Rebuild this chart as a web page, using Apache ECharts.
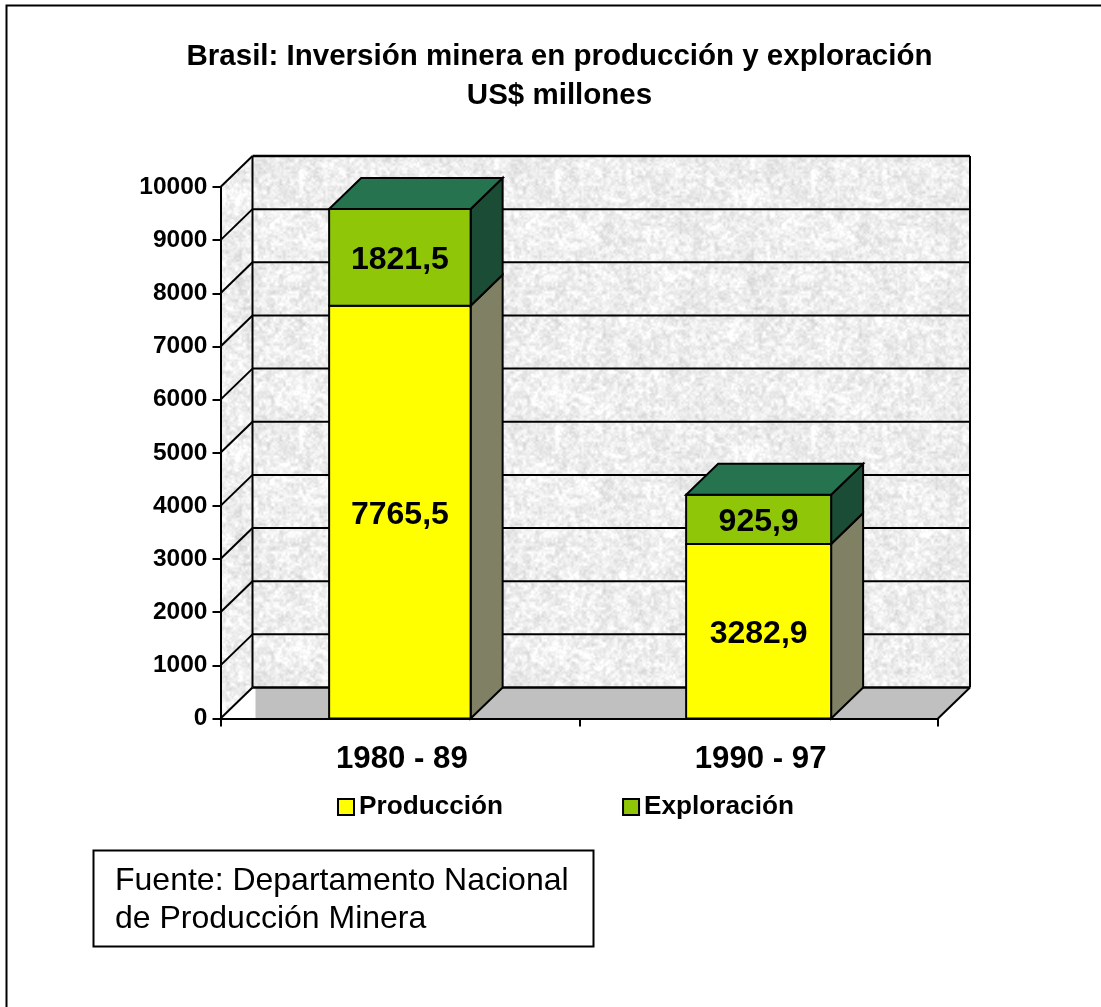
<!DOCTYPE html>
<html>
<head>
<meta charset="utf-8">
<style>html,body{margin:0;padding:0;background:#fff}#c{width:1101px;height:1007px}</style>
<script src="https://cdn.jsdelivr.net/npm/echarts@6/dist/echarts.min.js"></script>
</head>
<body>
<div id="c"></div>
<script>
const categories = ['1980 - 89', '1990 - 97'];
const produccion = [7765.5, 3282.9];
const exploracion = [1821.5, 925.9];
const yTicks = [0, 1000, 2000, 3000, 4000, 5000, 6000, 7000, 8000, 9000, 10000];
const titleLines = ['Brasil: Inversión minera en producción y exploración', 'US$ millones'];
const sourceLines = ['Fuente: Departamento Nacional', 'de Producción Minera'];

const FONT = '"Liberation Sans", Arial, sans-serif';
const DX = 32, DY = -31;
const BAR_W = [141.5, 145];
const INK = '#000';

function makeTexture() {
  const S = 256, cv = document.createElement('canvas');
  cv.width = cv.height = S;
  const ctx = cv.getContext('2d'), img = ctx.createImageData(S, S);
  let seed = 12345;
  const next = () => (seed = (seed * 1103515245 + 12345) & 0x7fffffff) / 0x7fffffff;
  const layer = (n) => { const a = []; for (let i = 0; i < n * n; i++) a.push(next()); return a; };
  const L1 = layer(16), L2 = layer(64), L3 = layer(128);
  const smp = (L, n, x, y) => {
    const fx = x / S * n, fy = y / S * n, ix = Math.floor(fx), iy = Math.floor(fy);
    let tx = fx - ix, ty = fy - iy; tx = tx * tx * (3 - 2 * tx); ty = ty * ty * (3 - 2 * ty);
    const g = (i, j) => L[((j + n) % n) * n + ((i + n) % n)];
    return (g(ix, iy) * (1 - tx) + g(ix + 1, iy) * tx) * (1 - ty) + (g(ix, iy + 1) * (1 - tx) + g(ix + 1, iy + 1) * tx) * ty;
  };
  for (let y = 0; y < S; y++) for (let x = 0; x < S; x++) {
    const v = 238 + (smp(L1, 16, x, y) - .5) * 12 + (smp(L2, 64, x, y) - .5) * 28 + (smp(L3, 128, x, y) - .5) * 22;
    const p = (y * S + x) * 4;
    img.data[p] = img.data[p + 1] = img.data[p + 2] = v;
    img.data[p + 3] = 255;
  }
  ctx.putImageData(img, 0, 0);
  return cv;
}
const texture = { image: makeTexture(), repeat: 'repeat' };

function poly(points, fill, z2) {
  return { type: 'polygon', z2: z2 || 0, shape: { points }, style: { fill, stroke: INK, lineWidth: 2, lineJoin: 'miter' } };
}
function seg(x1, y1, x2, y2, w) {
  return { type: 'line', z2: 5, shape: { x1, y1, x2, y2 }, style: { stroke: INK, lineWidth: w || 2, fill: null } };
}

function renderWalls(params, api) {
  const cs = params.coordSys;
  const x0 = cs.x, x1 = cs.x + cs.width;
  const y0 = api.coord([0, 0])[1], yT = api.coord([0, yTicks[yTicks.length - 1]])[1];
  const kids = [];
  kids.push({ type: 'polygon', shape: { points: [[x0 + DX, yT + DY], [x1 + DX, yT + DY], [x1 + DX, y0 + DY], [x0 + DX, y0 + DY]] }, style: { fill: texture } });
  kids.push({ type: 'polygon', shape: { points: [[x0, y0], [x0 + DX, y0 + DY], [x0 + DX, yT + DY], [x0, yT]] }, style: { fill: texture } });
  kids.push({ type: 'polygon', shape: { points: [[x0 + DX + 3, y0 + DY], [x1 + DX, y0 + DY], [x1, y0], [x0 + DX + 3, y0]] }, style: { fill: '#c0c0c0' } });
  yTicks.forEach(t => {
    const y = api.coord([0, t])[1];
    kids.push(seg(x0 + DX, y + DY, x1 + DX, y + DY, t === 0 || t === 10000 ? 2.5 : 2));
    kids.push(seg(x0, y, x0 + DX, y + DY));
  });
  kids.push(seg(x0 + DX, yT + DY, x0 + DX, y0 + DY));
  kids.push(seg(x1 + DX, yT + DY, x1 + DX, y0 + DY));
  kids.push(seg(x1, y0, x1 + DX, y0 + DY));
  return { type: 'group', children: kids };
}

function renderBar(colors, getBase) {
  return function (params, api) {
    const i = api.value(0), v = api.value(1), base = getBase(i);
    const c = api.coord([i, base]), t = api.coord([i, base + v]);
    const w = BAR_W[i], l = c[0] - w / 2, r = c[0] + w / 2, yb = c[1], yt = t[1];
    const kids = [
      poly([[r, yb], [r + DX, yb + DY], [r + DX, yt + DY], [r, yt]], colors.side, 1),
      poly([[l, yb], [r, yb], [r, yt], [l, yt]], colors.front, 2)
    ];
    if (colors.top) kids.push(poly([[l, yt], [r, yt], [r + DX, yt + DY], [l + DX, yt + DY]], colors.top, 3));
    kids.push({
      type: 'text', z2: 6,
      style: {
        text: v.toFixed(1).replace('.', ','), x: c[0], y: (yb + yt) / 2 + 3,
        textAlign: 'center', textVerticalAlign: 'middle',
        font: 'bold 32px ' + FONT, fill: INK
      }
    });
    return { type: 'group', children: kids };
  };
}

const chart = echarts.init(document.getElementById('c'), null, { renderer: 'canvas', width: 1101, height: 1007 });
chart.setOption({
  animation: false,
  backgroundColor: '#fff',
  title: {
    text: titleLines.join('\n'), left: 554.5, top: 32, textAlign: 'center',
    textStyle: { fontFamily: FONT, fontWeight: 'bold', fontSize: 29.5, lineHeight: 39, color: INK }
  },
  legend: {
    left: 332, top: 789, itemWidth: 16, itemHeight: 16, itemGap: 119, icon: 'rect',
    data: ['Producción', 'Exploración'],
    textStyle: { fontFamily: FONT, fontWeight: 'bold', fontSize: 26.2, color: INK }
  },
  grid: { left: 220.5, right: 163, top: 187, bottom: 288.5 },
  xAxis: {
    type: 'category', data: categories, z: 5,
    axisLine: { show: true, lineStyle: { color: INK, width: 2 } },
    axisTick: { show: true, length: 8, lineStyle: { color: INK, width: 2 } },
    axisLabel: { margin: 25, padding: [0, 0, 0, 4], fontFamily: FONT, fontWeight: 'bold', fontSize: 31.2, color: INK }
  },
  yAxis: {
    type: 'value', min: 0, max: 10000, interval: 1000, z: 5,
    splitLine: { show: false },
    axisLine: { show: true, lineStyle: { color: INK, width: 2 } },
    axisTick: { show: true, length: 8, lineStyle: { color: INK, width: 2 } },
    axisLabel: { margin: 13, fontFamily: FONT, fontWeight: 'bold', fontSize: 24.5, color: INK, formatter: v => String(v) }
  },
  series: [
    { type: 'custom', name: 'walls', z: 1, silent: true, clip: false, renderItem: renderWalls, data: [[0, 0]] },
    {
      type: 'custom', name: 'Producción', z: 2, clip: false,
      itemStyle: { color: '#ffff00', borderColor: INK, borderWidth: 2 },
      renderItem: renderBar({ front: '#ffff00', side: '#808064' }, () => 0),
      data: produccion.map((v, i) => [i, v])
    },
    {
      type: 'custom', name: 'Exploración', z: 3, clip: false,
      itemStyle: { color: '#8fc608', borderColor: INK, borderWidth: 2 },
      renderItem: renderBar({ front: '#8fc608', side: '#1b4d36', top: '#267350' }, i => produccion[i]),
      data: exploracion.map((v, i) => [i, v])
    }
  ],
  graphic: [
    { type: 'polyline', shape: { points: [[6.5, 1007], [6.5, 5.5], [1101, 5.5]] }, style: { stroke: INK, lineWidth: 2, fill: null } },
    { type: 'rect', shape: { x: 93.5, y: 850.5, width: 500, height: 96 }, style: { fill: '#fff', stroke: INK, lineWidth: 2 } },
    { type: 'text', style: { x: 115, y: 881, text: sourceLines[0], font: '32px ' + FONT, fill: INK, textVerticalAlign: 'middle' } },
    { type: 'text', style: { x: 115, y: 919, text: sourceLines[1], font: '32px ' + FONT, fill: INK, textVerticalAlign: 'middle' } }
  ]
});
</script>
</body>
</html>
